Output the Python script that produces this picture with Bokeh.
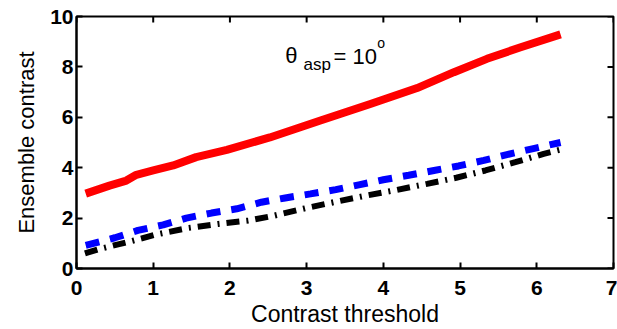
import math
from bokeh.plotting import figure
from bokeh.models import Range1d, Label, FixedTicker
from bokeh.embed import file_html
from bokeh.resources import INLINE

# ---- data ----
red_x = [0.12, 0.43, 0.65, 0.78, 1.0, 1.26, 1.56, 1.96, 2.52, 3.18, 3.83, 4.44, 4.92, 5.35, 5.79, 6.31]
red_y = [2.97, 3.29, 3.49, 3.72, 3.89, 4.09, 4.42, 4.71, 5.2, 5.87, 6.53, 7.16, 7.79, 8.32, 8.78, 9.29]

blue_x = [0.12, 0.5, 0.8, 1.13, 1.43, 1.76, 2.09, 2.41, 2.72, 3.05, 3.38, 3.68, 4.0, 4.33,
          4.66, 4.98, 5.31, 5.61, 5.94, 6.31]
blue_y = [0.92, 1.22, 1.51, 1.73, 2.0, 2.2, 2.37, 2.63, 2.8, 2.96, 3.13, 3.32, 3.52, 3.7,
          3.89, 4.07, 4.29, 4.52, 4.75, 5.0]

black_x = [0.11, 0.28, 0.67, 1.04, 1.46, 1.85, 2.24, 2.58, 3.01, 3.4, 3.79, 4.18, 4.57,
           4.95, 5.33, 5.72, 6.09, 6.31]
black_y = [0.6, 0.76, 1.05, 1.35, 1.61, 1.77, 1.9, 2.1, 2.41, 2.66, 2.9, 3.12, 3.36,
           3.6, 3.89, 4.22, 4.55, 4.72]

x_ticks = [0, 1, 2, 3, 4, 5, 6, 7]
y_ticks = [0, 2, 4, 6, 8, 10]
x_min, x_max = 0, 7
y_min, y_max = 0, 10

x_label = "Contrast threshold"
y_label = "Ensemble contrast"

SANS = "Liberation Sans"

p = figure(width=617, height=329, x_range=Range1d(x_min, x_max), y_range=Range1d(y_min, y_max),
           output_backend="svg", toolbar_location=None,
           min_border_left=76, min_border_right=4, min_border_top=16, min_border_bottom=61)
p.grid.visible = False
p.outline_line_color = "black"
p.outline_line_width = 2
p.background_fill_color = "white"
p.border_fill_color = "white"

for ax, ticks in ((p.xaxis[0], x_ticks), (p.yaxis[0], y_ticks)):
    ax.ticker = FixedTicker(ticks=ticks)
    ax.axis_line_width = 2
    ax.axis_line_color = "black"
    ax.major_tick_in = 6
    ax.major_tick_out = 0
    ax.major_tick_line_width = 2
    ax.minor_tick_line_color = None
    ax.major_label_text_font = SANS
    ax.major_label_text_font_style = "bold"
    ax.major_label_text_font_size = "21px"
    ax.major_label_text_color = "black"
    ax.axis_label_text_font = SANS
    ax.axis_label_text_font_style = "normal"
    ax.axis_label_text_font_size = "22px"
    ax.axis_label_text_color = "black"

p.xaxis[0].axis_label = x_label
p.yaxis[0].axis_label = y_label
p.xaxis[0].axis_label_text_font_size = "23px"
p.xaxis[0].major_label_standoff = 12
p.yaxis[0].major_label_standoff = 3
p.xaxis[0].axis_label_standoff = 3
p.yaxis[0].axis_label_standoff = 8

# inward ticks on the top and right edges of the box
p.scatter(x=x_ticks, y=[y_max] * len(x_ticks), marker="dash", angle=math.pi / 2,
          size=12, line_color="black", line_width=2)
p.scatter(x=[x_max] * len(y_ticks), y=y_ticks, marker="dash",
          size=12, line_color="black", line_width=2)

p.line(red_x, red_y, line_color="#ff0000", line_width=8, line_join="round")
p.line(blue_x, blue_y, line_color="#0000ff", line_width=7, line_dash="14 11")
p.line(black_x, black_y, line_color="black", line_width=6, line_dash="13 7 2 7")

p.add_layout(Label(x=2.72, y=8.45, text="θ", text_font=SANS, text_font_size="22px",
                   text_baseline="alphabetic", text_color="black"))
p.add_layout(Label(x=2.96, y=8.1, text="asp", text_font=SANS, text_font_size="17px",
                   text_baseline="alphabetic", text_color="black"))
p.add_layout(Label(x=3.35, y=8.43, text="= 10", text_font=SANS, text_font_size="22px",
                   text_baseline="alphabetic", text_color="black"))
p.add_layout(Label(x=3.92, y=8.96, text="o", text_font=SANS, text_font_size="14px",
                   text_baseline="alphabetic", text_color="black"))

open("out.html", "w").write(file_html(p, INLINE))
